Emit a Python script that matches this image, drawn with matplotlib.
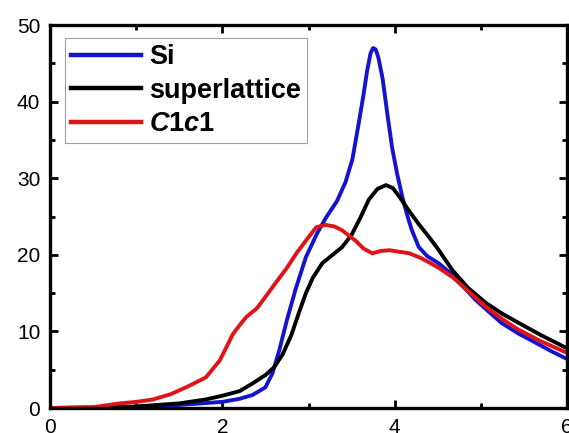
import matplotlib
matplotlib.use("Agg")
import matplotlib.pyplot as plt
from matplotlib.ticker import MultipleLocator

plt.rcParams['font.family'] = ['Liberation Sans', 'DejaVu Sans']
plt.rcParams['mathtext.fontset'] = 'custom'
plt.rcParams['mathtext.rm'] = 'Liberation Sans:weight=bold'
plt.rcParams['mathtext.it'] = 'Liberation Sans:style=italic:weight=bold'

si_x = [0, 0.5, 1.0, 1.5, 2.0, 2.2, 2.35, 2.5, 2.58, 2.66, 2.75, 2.85, 2.97, 3.1, 3.2, 3.33,
        3.43, 3.51, 3.58, 3.64, 3.68, 3.72, 3.75, 3.78, 3.81, 3.86, 3.92, 3.97, 4.03, 4.09,
        4.15, 4.2, 4.28, 4.38, 4.51, 4.67, 4.8, 4.94, 5.1, 5.24, 5.44, 5.64, 5.82, 6.0]
si_y = [0, 0.05, 0.15, 0.4, 0.8, 1.2, 1.7, 2.7, 4.5, 7.5, 11.5, 15.5, 19.7, 22.8, 24.8, 27.0,
        29.5, 32.5, 37, 41, 44, 46.3, 47, 46.8, 45.8, 43, 38, 34, 30.5, 27.5,
        25, 23.2, 21.0, 19.8, 18.9, 17.4, 15.8, 14.1, 12.5, 11.1, 9.7, 8.5, 7.4, 6.4]

sl_x = [0, 0.5, 1.0, 1.5, 1.8, 2.0, 2.2, 2.35, 2.5, 2.6, 2.7, 2.8, 2.9, 2.97, 3.05, 3.16,
        3.28, 3.39, 3.5, 3.6, 3.7, 3.8, 3.9, 3.98, 4.06, 4.15, 4.28, 4.4, 4.5, 4.67, 4.85,
        5.06, 5.25, 5.44, 5.7, 6.0]
sl_y = [0, 0.05, 0.2, 0.6, 1.1, 1.6, 2.2, 3.2, 4.3, 5.3, 7.0, 9.5, 12.8, 15.0, 17.0, 18.9,
        20.0, 21.0, 22.6, 24.8, 27.2, 28.6, 29.1, 28.7, 27.5, 26.0, 24.0, 22.3, 20.8, 18.0, 15.7,
        13.7, 12.3, 11.1, 9.5, 7.8]

cc_x = [0, 0.5, 0.81, 1.0, 1.19, 1.4, 1.58, 1.81, 1.97, 2.05, 2.12, 2.2, 2.28, 2.4, 2.5,
        2.63, 2.75, 2.86, 2.98, 3.09, 3.2, 3.3, 3.39, 3.47, 3.55, 3.64, 3.74, 3.84, 3.94,
        4.05, 4.17, 4.3, 4.4, 4.51, 4.67, 4.85, 5.06, 5.25, 5.44, 5.7, 6.0]
cc_y = [0, 0.1, 0.6, 0.8, 1.1, 1.8, 2.7, 4.0, 6.2, 8.0, 9.6, 10.8, 11.9, 13.0, 14.5,
        16.5, 18.3, 20.2, 22.0, 23.6, 23.9, 23.7, 23.2, 22.5, 21.8, 20.8, 20.2, 20.5, 20.6,
        20.4, 20.2, 19.6, 19.0, 18.3, 17.1, 15.3, 13.2, 11.6, 10.2, 8.7, 7.2]

labels = ['Si', 'superlattice', r'$\mathit{C}$1$\mathit{c}$1']
colors = ['#1414cc', '#000000', '#e01418']

x_ticks = [0, 2, 4, 6]
y_ticks = [0, 10, 20, 30, 40, 50]

fig = plt.figure(figsize=(5.69, 4.33), dpi=100)
ax = fig.add_axes([50/569, 25/433, 517/569, 383/433])

for xs, ys, lab, c in zip([si_x, sl_x, cc_x], [si_y, sl_y, cc_y], labels, colors):
    ax.plot(xs, ys, color=c, lw=2.8, label=lab, solid_joinstyle='round')

ax.set_xlim(0, 6)
ax.set_ylim(0, 50)
ax.set_xticks(x_ticks)
ax.set_yticks(y_ticks)
ax.xaxis.set_minor_locator(MultipleLocator(1))
ax.yaxis.set_minor_locator(MultipleLocator(5))
ax.tick_params(which='both', direction='in', top=True, right=True, width=2, labelsize=15, pad=7)
ax.tick_params(which='major', length=6)
ax.tick_params(which='minor', length=3.5)
for s in ax.spines.values():
    s.set_linewidth(2.4)

leg = ax.legend(loc='upper left', bbox_to_anchor=(0.029, 0.966),
                prop={'weight': 'bold', 'size': 19.5}, frameon=True, fancybox=False,
                edgecolor='#888888', handlelength=2.6, handletextpad=0.3,
                labelspacing=0.28, borderpad=0.22, borderaxespad=0)
leg.get_frame().set_linewidth(0.8)
for l in leg.get_lines():
    l.set_linewidth(3.2)

fig.savefig('out.png', dpi=100)
